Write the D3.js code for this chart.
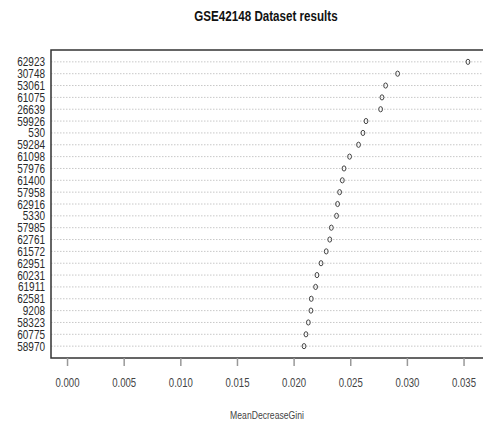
<!DOCTYPE html>
<html>
<head>
<meta charset="utf-8">
<script src="https://cdn.jsdelivr.net/npm/d3@7"></script>
<style>
  body { margin: 0; background: #fff; }
  svg { display: block; }
  text { font-family: "Liberation Sans", Arial, sans-serif; }
</style>
</head>
<body>
<div class="chart"></div>
<script>
// probe labels, top to bottom
var probes = ["62923", "30748", "53061", "61075", "26639", "59926", "530", "59284",
  "61098", "57976", "61400", "57958", "62916", "5330", "57985", "62761",
  "61572", "62951", "60231", "61911", "62581", "9208", "58323", "60775", "58970"];

// MeanDecreaseGini
var gini = [0.03539, 0.02918, 0.02812, 0.02780, 0.02768, 0.02639, 0.02612, 0.02573,
  0.02494, 0.02445, 0.02430, 0.02406, 0.02388, 0.02379, 0.02333, 0.02319,
  0.02288, 0.02242, 0.02206, 0.02194, 0.02156, 0.02153, 0.02130, 0.02109, 0.02092];

var xTicks = [0, 0.005, 0.010, 0.015, 0.020, 0.025, 0.030, 0.035];

var svgWidth = 483, svgHeight = 426;
var margin = { top: 50, right: -1, bottom: 68, left: 51 };
var width = svgWidth - margin.left - margin.right;
var height = svgHeight - margin.top - margin.bottom;

// the original uses a condensed face; squeeze the text horizontally
var squeeze = 0.8;

var svg = d3.select(".chart")
  .append("svg")
  .attr("width", svgWidth)
  .attr("height", svgHeight);

var chartGroup = svg.append("g")
  .attr("transform", `translate(${margin.left}, ${margin.top})`);

// R style: xlim = c(0, max), then 4% padding each side
var xmax = d3.max(gini);
var xScale = d3.scaleLinear()
  .domain([-0.04 * xmax, 1.04 * xmax])
  .range([0, width]);

// rows 1..n from top, ylim 0..n+1
var yScale = d3.scaleLinear()
  .domain([0, probes.length + 1])
  .range([0, height]);

// dotted grid lines
chartGroup.selectAll(".grid")
  .data(probes)
  .enter()
  .append("line")
  .attr("class", "grid")
  .attr("x1", 0)
  .attr("x2", width)
  .attr("y1", (d, i) => yScale(i + 1))
  .attr("y2", (d, i) => yScale(i + 1))
  .attr("stroke", "#c8c8c8")
  .attr("stroke-width", 1)
  .attr("stroke-dasharray", "1.5,1.5");

// box
chartGroup.append("rect")
  .attr("x", 0)
  .attr("y", 0)
  .attr("width", width)
  .attr("height", height)
  .attr("fill", "none")
  .attr("stroke", "#333")
  .attr("stroke-width", 1.5);

// points
chartGroup.selectAll(".pt")
  .data(gini)
  .enter()
  .append("ellipse")
  .attr("class", "pt")
  .attr("cx", d => xScale(d))
  .attr("cy", (d, i) => yScale(i + 1))
  .attr("rx", 1.9)
  .attr("ry", 2.6)
  .attr("fill", "none")
  .attr("stroke", "#444")
  .attr("stroke-width", 1);

// y labels
chartGroup.selectAll(".ylab")
  .data(probes)
  .enter()
  .append("text")
  .attr("class", "ylab")
  .attr("transform", (d, i) => `translate(-6, ${yScale(i + 1)}) scale(${squeeze}, 1)`)
  .attr("dy", "0.36em")
  .attr("text-anchor", "end")
  .attr("font-size", "12.5px")
  .attr("fill", "#2a2a2a")
  .text(d => d);

// x axis
var xAxis = d3.axisBottom(xScale)
  .tickValues(xTicks)
  .tickFormat(d3.format(".3f"))
  .tickSize(8)
  .tickPadding(12);

var axisG = chartGroup.append("g")
  .attr("transform", `translate(0, ${height})`)
  .call(xAxis);
axisG.select(".domain").remove();
axisG.selectAll("line").attr("stroke", "#999").attr("stroke-width", 1.5);
axisG.selectAll("text")
  .attr("font-size", "12px")
  .attr("fill", "#444")
  .attr("transform", `scale(${squeeze}, 1)`)
  .style("font-family", "\"Liberation Sans\", Arial, sans-serif");

// title
svg.append("text")
  .attr("transform", `translate(266, 21) scale(0.83, 1)`)
  .attr("text-anchor", "middle")
  .attr("font-size", "14px")
  .attr("font-weight", "bold")
  .attr("fill", "#111")
  .text("GSE42148 Dataset results");

// x axis title
svg.append("text")
  .attr("transform", `translate(267, 419) scale(0.75, 1)`)
  .attr("text-anchor", "middle")
  .attr("font-size", "11.5px")
  .attr("fill", "#444")
  .text("MeanDecreaseGini");
</script>
</body>
</html>
